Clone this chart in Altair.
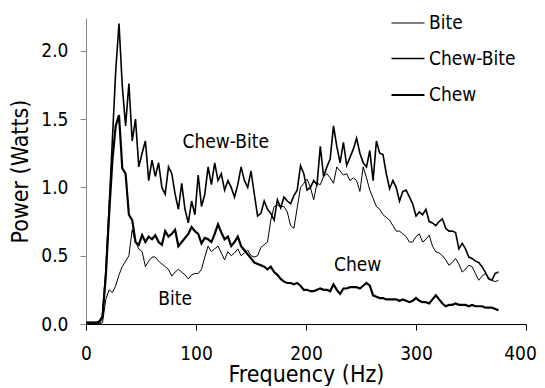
import altair as alt
import pandas as pd

freq = [0, 3, 6, 9, 12, 15, 18, 21, 24, 27, 30, 33, 36, 39, 42, 45, 48, 51, 54, 57,
        60, 63, 66, 69, 72, 75, 78, 81, 84, 87, 90, 93, 96, 99, 102, 105, 108, 111, 114, 117,
        120, 123, 126, 129, 132, 135, 138, 141, 144, 147, 150, 153, 156, 159, 162, 165, 168, 171, 174, 177,
        180, 183, 186, 189, 192, 195, 198, 201, 204, 207, 210, 213, 216, 219, 222, 225, 228, 231, 234, 237,
        240, 243, 246, 249, 252, 255, 258, 261, 264, 267, 270, 273, 276, 279, 282, 285, 288, 291, 294, 297,
        300, 303, 306, 309, 312, 315, 318, 321, 324, 327, 330, 333, 336, 339, 342, 345, 348, 351, 354, 357,
        360, 363, 366, 369, 372, 375]

bite = [0.0, 0.0, 0.0, 0.0, 0.0, 0.01, 0.18, 0.25, 0.23, 0.28, 0.36, 0.42, 0.46, 0.5, 0.69, 0.6, 0.55, 0.53, 0.42, 0.46,
        0.49, 0.49, 0.46, 0.44, 0.42, 0.4, 0.35, 0.38, 0.4, 0.38, 0.36, 0.33, 0.36, 0.37, 0.37, 0.4, 0.49, 0.57, 0.53, 0.55,
        0.57, 0.52, 0.47, 0.53, 0.5, 0.52, 0.55, 0.5, 0.52, 0.54, 0.5, 0.49, 0.5, 0.56, 0.58, 0.6, 0.76, 0.86, 0.87, 0.86,
        0.86, 0.82, 0.72, 0.7, 0.85, 1.0, 1.03, 1.06, 1.0, 0.91, 1.03, 1.02, 1.08, 1.1, 1.07, 1.03, 1.15, 1.12, 1.09, 1.1,
        1.05, 1.07, 1.05, 0.97, 1.15, 1.07, 0.98, 0.92, 0.86, 0.84, 0.8, 0.78, 0.76, 0.72, 0.68, 0.68, 0.66, 0.64, 0.6, 0.6,
        0.64, 0.66, 0.6, 0.62, 0.65, 0.57, 0.53, 0.52, 0.5, 0.47, 0.43, 0.45, 0.48, 0.44, 0.38, 0.4, 0.43, 0.42, 0.37, 0.32,
        0.35, 0.37, 0.34, 0.32, 0.31, 0.32]

chew_bite = [0.01, 0.01, 0.01, 0.01, 0.02, 0.06, 0.38, 0.85, 1.35, 1.85, 2.2, 1.74, 1.45, 1.76, 1.34, 1.5, 1.15, 1.25, 1.34, 1.05,
             1.2, 1.08, 1.18, 1.0, 0.95, 1.15, 1.1, 0.95, 0.84, 1.03, 0.84, 0.74, 0.9, 0.8, 1.09, 0.86, 0.95, 1.15, 1.02, 1.18,
             1.05, 1.1, 0.98, 1.05, 1.0, 0.93, 1.02, 1.15, 1.05, 1.0, 1.12, 0.95, 0.79, 0.81, 0.9, 0.84, 0.81, 0.76, 0.91, 0.85,
             0.93, 0.9, 0.88, 0.94, 0.98, 1.16, 1.1, 0.98, 1.0, 1.05, 1.02, 1.3, 1.08, 1.15, 1.21, 1.45, 1.3, 1.18, 1.33, 1.16,
             1.22, 1.28, 1.36, 1.25, 1.18, 1.15, 1.27, 1.05, 1.34, 1.25, 1.24, 1.1, 0.99, 1.05, 1.0, 0.9, 0.97, 0.98, 0.93, 0.88,
             0.79, 0.82, 0.8, 0.84, 0.75, 0.74, 0.72, 0.75, 0.77, 0.7, 0.68, 0.68, 0.67, 0.55, 0.59, 0.55, 0.49, 0.48, 0.46, 0.45,
             0.42, 0.38, 0.33, 0.32, 0.37, 0.38]

chew = [0.01, 0.01, 0.01, 0.01, 0.01, 0.05, 0.35, 0.8, 1.2, 1.45, 1.53, 1.14, 1.1, 0.8, 0.76, 0.6, 0.58, 0.65, 0.6, 0.64,
        0.62, 0.65, 0.6, 0.58, 0.68, 0.64, 0.66, 0.69, 0.57, 0.6, 0.63, 0.66, 0.71, 0.68, 0.66, 0.59, 0.63, 0.62, 0.6, 0.66,
        0.73, 0.67, 0.62, 0.64, 0.57, 0.6, 0.64, 0.57, 0.54, 0.51, 0.48, 0.45, 0.44, 0.43, 0.42, 0.4, 0.42, 0.38, 0.36, 0.33,
        0.31, 0.3, 0.3, 0.29, 0.3, 0.28, 0.25, 0.25, 0.24, 0.24, 0.25, 0.26, 0.25, 0.25, 0.24, 0.29, 0.25, 0.22, 0.26, 0.26,
        0.27, 0.27, 0.27, 0.26, 0.28, 0.3, 0.28, 0.21, 0.2, 0.19, 0.19, 0.18, 0.18, 0.18, 0.18, 0.17, 0.18, 0.17, 0.16, 0.17,
        0.19, 0.17, 0.16, 0.16, 0.15, 0.18, 0.21, 0.18, 0.15, 0.13, 0.14, 0.14, 0.15, 0.14, 0.14, 0.14, 0.13, 0.14, 0.13, 0.13,
        0.13, 0.12, 0.12, 0.12, 0.11, 0.1]

series_names = ["Bite", "Chew-Bite", "Chew"]
label_text = ["Chew-Bite", "Chew", "Bite"]
label_freq = [127, 247, 81]
label_power = [1.33, 0.43, 0.18]

rows = []
for name, vals in zip(series_names, [bite, chew_bite, chew]):
    for f, v in zip(freq, vals):
        rows.append({"freq": f, "power": v, "series": name})
df = pd.DataFrame(rows)
labels = pd.DataFrame({"text": label_text, "freq": label_freq, "power": label_power})

FONT = "DejaVu Sans Condensed, Liberation Sans, sans-serif"

x = alt.X("freq:Q", scale=alt.Scale(domain=[0, 400], nice=False),
          axis=alt.Axis(values=[0, 100, 200, 300, 400], title="Frequency (Hz)", grid=False,
                        domainColor="black", tickColor="black", tickSize=6, labelFlush=False,
                        labelFontSize=19, titleFontSize=23, labelPadding=14, titlePadding=0,
                        labelColor="black", titleColor="black", titleFontWeight="normal",
                        labelFont=FONT, titleFont=FONT,
                        labelOffset=alt.expr("datum.value == 400 ? -6 : 0")))
y = alt.Y("power:Q", scale=alt.Scale(domain=[0, 2.24], nice=False),
          axis=alt.Axis(values=[0, 0.5, 1.0, 1.5, 2.0], format=".1f", title="Power (Watts)", grid=False,
                        domainColor="#888888", tickColor="#888888", tickSize=6, labelFlush=False,
                        labelFontSize=19, titleFontSize=23, labelPadding=12, titlePadding=8,
                        labelColor="black", titleColor="black", titleFontWeight="normal",
                        labelFont=FONT, titleFont=FONT))

lines = alt.Chart(df).mark_line(color="black").encode(
    x=x,
    y=y,
    strokeWidth=alt.StrokeWidth(
        "series:N",
        scale=alt.Scale(domain=series_names, range=[1, 2.2, 4]),
        legend=alt.Legend(title=None, orient="none", legendX=304, legendY=-12,
                          symbolType="stroke", symbolSize=1089, symbolStrokeColor="black",
                          labelFontSize=19, labelFont=FONT, labelColor="black",
                          labelOffset=3, rowPadding=8, padding=0),
    ),
    order=alt.Order("freq:Q"),
)

text = alt.Chart(labels).mark_text(fontSize=19, font=FONT, color="black", align="center",
                                   baseline="middle").encode(
    x=alt.X("freq:Q"), y=alt.Y("power:Q"), text="text:N")

chart = alt.layer(lines, text).properties(
    width=440, height=306,
    autosize=alt.AutoSizeParams(type="none"),
    padding={"left": 78, "top": 10, "right": 11, "bottom": 62},
).configure_view(stroke=None)

chart.save("out.html", embed_options={"renderer": "svg", "actions": False})
